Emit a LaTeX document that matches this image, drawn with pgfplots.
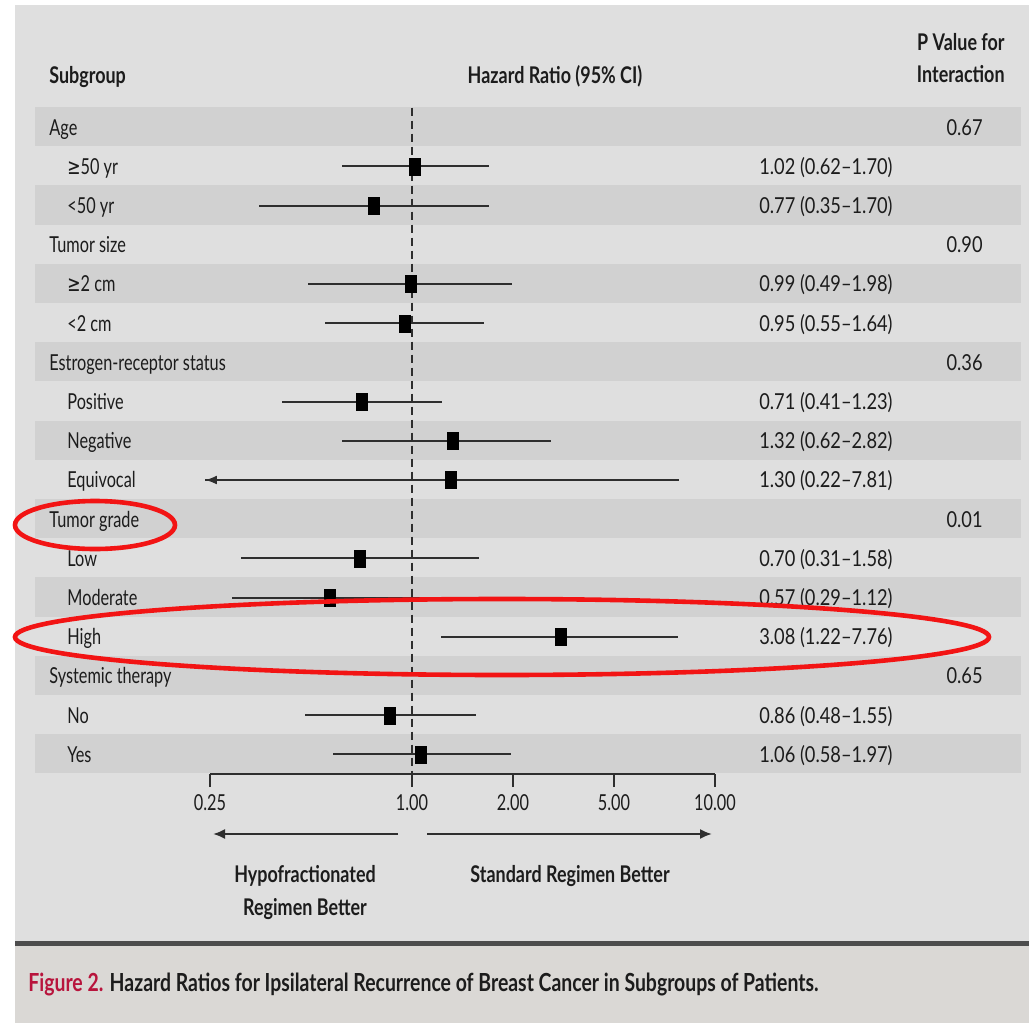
\documentclass[border=0pt]{standalone}
\usepackage{pgfplots}
\pgfplotsset{compat=1.18}
\usepackage{pgfplotstable}
\usetikzlibrary{arrows.meta}
\usepackage{fontspec}
\setmainfont{Lato}[FakeStretch=0.74, Numbers=Monospaced]
\newfontfamily\hdfam{Lato}[FakeStretch=0.78]
\newfontfamily\cifam{Lato}[FakeStretch=0.83, Numbers=Monospaced]
\newfontfamily\symf{DejaVu Sans}[FakeStretch=0.72]
\definecolor{panel}{HTML}{DFDFDF}
\definecolor{stripe}{HTML}{D1D1D1}
\definecolor{capbg}{HTML}{DAD8D5}
\definecolor{sepc}{HTML}{4D4D4D}
\definecolor{figred}{HTML}{B8143C}
\definecolor{hl}{HTML}{F21414}
\definecolor{txt}{HTML}{1C1C1C}
\definecolor{cic}{HTML}{2E2E2E}
\newcommand\rowfont{\fontsize{11pt}{13pt}\selectfont}
\newcommand\cifont{\cifam\fontsize{11pt}{13pt}\selectfont}
\newcommand\hdfont{\hdfam\fontsize{11.5pt}{13pt}\selectfont\bfseries}
\newcommand\capfont{\hdfam\fontsize{12.45pt}{14pt}\selectfont\bfseries}
% hazard-ratio axis: piecewise log scale matching the printed ticks
\pgfmathdeclarefunction{tf}{1}{\pgfmathparse{(#1<2) ? (ln(#1)/ln(2)) : ((#1<5) ? (1+ln(#1/2)/ln(2.5)) : (2+ln(#1/5)/ln(2)))}}
\pgfplotstableread{
y hr lo hi
-1.5 1.02 0.62 1.70
-2.5 0.77 0.35 1.70
-4.5 0.99 0.49 1.98
-5.5 0.95 0.55 1.64
-7.5 0.71 0.41 1.23
-8.5 1.32 0.62 2.82
-9.5 1.30 0.22 7.81
-11.5 0.70 0.31 1.58
-12.5 0.57 0.29 1.12
-13.5 3.08 1.22 7.76
-15.5 0.86 0.48 1.55
-16.5 1.06 0.58 1.97
}\hrdata
\newcommand{\rowlab}[3]{\node[anchor=base west, inner sep=0, text=txt, font=\rowfont] at (#2,{107+39.2*(#1+0.5)+8.5}) {#3};}
\newcommand{\citext}[2]{\node[anchor=base east, inner sep=0, text=txt, font=\cifont] at (893,{107+39.2*(#1+0.5)+8.5}) {#2};}
\newcommand{\pval}[2]{\node[anchor=base east, inner sep=0, text=txt, font=\cifont] at (983,{107+39.2*(#1+0.5)+8.5}) {#2};}
\begin{document}
\begin{tikzpicture}[x=0.5pt,y=-0.5pt]
\fill[white] (0,0) rectangle (1029,1023);
\fill[panel] (15,5) rectangle (1029,941);
\fill[sepc] (15,941) rectangle (1029,946);
\fill[capbg] (15,946) rectangle (1029,1023);
\foreach \i in {0,2,...,16} {\fill[stripe] (35,{107+39.2*\i}) rectangle (1021,{107+39.2*(\i+1)});}
\coordinate (axSW) at (210,774);
% headers
\node[anchor=base west, inner sep=0, text=txt, font=\hdfont] at (49,83) {Subgroup};
\node[anchor=base, inner sep=0, text=txt, font=\hdfont] at (555,83) {Hazard Ratio (95\% CI)};
\node[anchor=base east, inner sep=0, text=txt, font=\hdfont] at (1005,50) {P Value for};
\node[anchor=base east, inner sep=0, text=txt, font=\hdfont] at (1005,82) {Interaction};
% row labels
\rowlab{0}{49}{Age}
\rowlab{1}{67}{{\symf ≥}50 yr}
\rowlab{2}{67}{<50 yr}
\rowlab{3}{49}{Tumor size}
\rowlab{4}{67}{{\symf ≥}2 cm}
\rowlab{5}{67}{<2 cm}
\rowlab{6}{49}{Estrogen-receptor status}
\rowlab{7}{67}{Positive}
\rowlab{8}{67}{Negative}
\rowlab{9}{67}{Equivocal}
\rowlab{10}{49}{Tumor grade}
\rowlab{11}{67}{Low}
\rowlab{12}{67}{Moderate}
\rowlab{13}{67}{High}
\rowlab{14}{49}{Systemic therapy}
\rowlab{15}{67}{No}
\rowlab{16}{67}{Yes}
% CI text
\citext{1}{1.02 (0.62–1.70)}
\citext{2}{0.77 (0.35–1.70)}
\citext{4}{0.99 (0.49–1.98)}
\citext{5}{0.95 (0.55–1.64)}
\citext{7}{0.71 (0.41–1.23)}
\citext{8}{1.32 (0.62–2.82)}
\citext{9}{1.30 (0.22–7.81)}
\citext{11}{0.70 (0.31–1.58)}
\citext{12}{0.57 (0.29–1.12)}
\citext{13}{3.08 (1.22–7.76)}
\citext{15}{0.86 (0.48–1.55)}
\citext{16}{1.06 (0.58–1.97)}
\pval{0}{0.67}
\pval{3}{0.90}
\pval{6}{0.36}
\pval{10}{0.01}
\pval{14}{0.65}
\begin{axis}[
  at={(axSW)}, anchor=south west,
  scale only axis, width=252.5pt, height=333.2pt,
  xmin=-2, xmax=3, ymin=-17, ymax=0,
  clip=false,
  axis x line*=bottom, axis y line=none,
  x axis line style={-, line width=0.9pt, draw=cic},
  xtick={-2,0,1,2,3}, xticklabels={0.25,1.00,2.00,5.00,10.00},
  ytick=\empty,
  tick align=outside, major tick length=6.5pt,
  xtick style={line width=0.9pt, draw=cic},
  xticklabel style={font=\rowfont, text=txt},
]
\addplot[cic, line width=0.75pt, dash pattern=on 4pt off 2.5pt] coordinates {(0,0) (0,-17)};
\addplot[only marks, mark=none, forget plot,
  error bars/.cd, x dir=both, x explicit,
  error mark=none, error bar style={draw=cic, line width=1pt, solid}]
  table[x expr={tf(\thisrow{hr})}, y=y,
        x error plus expr={tf(\thisrow{hi})-tf(\thisrow{hr})},
        x error minus expr={tf(\thisrow{hr})-max(tf(\thisrow{lo}),-2.05)}] {\hrdata};
\addplot[draw=cic, line width=1pt, -{Latex[length=6pt,width=4.5pt]}]
  table[x expr={max(tf(\thisrow{v}),-2.05)}, y=y] {
v y
7.81 -9.5
0.22 -9.5
};
\addplot[only marks, mark=square*, mark size=4.25pt,
  mark options={xscale=0.65, fill=black, draw=black, line width=0.2pt}]
  table[x expr={tf(\thisrow{hr})}, y=y] {\hrdata};
\end{axis}
% direction arrows
\draw[cic, line width=1pt, -{Latex[length=6pt,width=5pt]}] (398,834) -- (213,834);
\draw[cic, line width=1pt, -{Latex[length=6pt,width=5pt]}] (427,834) -- (712,834);
\node[anchor=base, inner sep=0, text=txt, font=\hdfont] at (305,882) {Hypofractionated};
\node[anchor=base, inner sep=0, text=txt, font=\hdfont] at (305,915) {Regimen Better};
\node[anchor=base, inner sep=0, text=txt, font=\hdfont] at (570,882) {Standard Regimen Better};
% caption
\node[anchor=base west, inner sep=0, font=\capfont] at (28,991) {\textcolor{figred}{Figure 2.} \textcolor{txt}{Hazard Ratios for Ipsilateral Recurrence of Breast Cancer in Subgroups of Patients.}};
% highlight ellipses
\draw[hl, line width=2.3pt] (95,525) ellipse [x radius=80, y radius=24];
\draw[hl, line width=2.3pt] (502,637) ellipse [x radius=487, y radius=38];
\end{tikzpicture}
\end{document}
